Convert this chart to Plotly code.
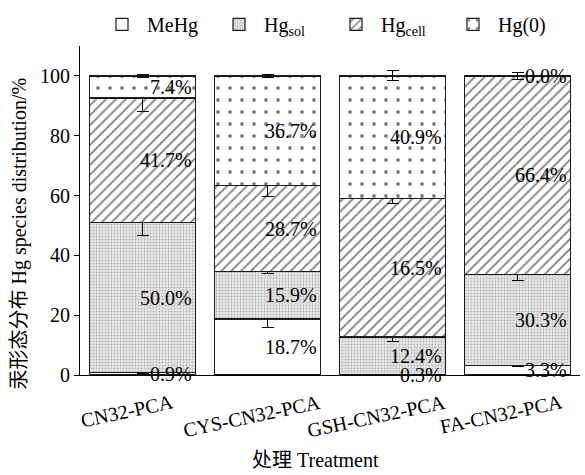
import plotly.graph_objects as go

categories = ["CN32-PCA", "CYS-CN32-PCA", "GSH-CN32-PCA", "FA-CN32-PCA"]
series_names = ["MeHg", "Hg<sub>sol</sub>", "Hg<sub>cell</sub>", "Hg(0)"]

mehg = [0.9, 18.7, 0.3, 3.3]
hg_sol = [50.0, 15.9, 12.4, 30.3]
hg_cell = [41.7, 28.7, 46.4, 66.4]
hg0 = [7.4, 36.7, 40.9, 0.0]

mehg_err = [0.3, 2.7, 0.0, 0.4]
hg_sol_err = [4.2, 0.5, 1.4, 2.1]
hg_cell_err = [4.5, 3.7, 1.6, 0.0]
hg0_err = [0.6, 0.6, 1.7, 1.3]

mehg_lbl = ["0.9%", "18.7%", "0.3%", "3.3%"]
hg_sol_lbl = ["50.0%", "15.9%", "12.4%", "30.3%"]
hg_cell_lbl = ["41.7%", "28.7%", "16.5%", "66.4%"]
hg0_lbl = ["7.4%", "36.7%", "40.9%", "0.0%"]

y_ticks = [0, 20, 40, 60, 80, 100]
x_title = "处理 Treatment"
y_title = "汞形态分布 Hg species distribution/%"

FONT = "Liberation Serif, Noto Sans CJK SC, serif"

series = [mehg, hg_sol, hg_cell, hg0]
errors = [mehg_err, hg_sol_err, hg_cell_err, hg0_err]
labels = [mehg_lbl, hg_sol_lbl, hg_cell_lbl, hg0_lbl]
patterns = [
    dict(shape="", bgcolor="white"),
    dict(shape=".", fgcolor="#8a8a8a", bgcolor="#e6e6e6", size=3, solidity=0.3),
    dict(shape="/", fgcolor="black", bgcolor="white", size=7, solidity=0.26),
    dict(shape=".", fgcolor="black", bgcolor="white", size=12, solidity=0.08),
]

fig = go.Figure()
for name, vals, err, pat in zip(series_names, series, errors, patterns):
    fig.add_trace(go.Bar(
        x=categories, y=vals, name=name,
        marker=dict(color="white", pattern=pat,
                    line=dict(color="#1a1a1a", width=1.2)),
        error_y=dict(type="data", array=err, visible=True, color="black",
                     thickness=1, width=6),
    ))

annotations = []
# segment labels
base = [0.0] * len(categories)
for vals, lbls in zip(series, labels):
    for i, cat in enumerate(categories):
        annotations.append(dict(
            x=cat, y=base[i] + vals[i] / 2, xref="x", yref="y",
            text=lbls[i], showarrow=False, xanchor="right", yanchor="middle",
            xshift=51, font=dict(family=FONT, size=20, color="black")))
        base[i] += vals[i]

# category labels (slanted)
for cat in categories:
    annotations.append(dict(
        x=cat, y=0, xref="x", yref="y", text=cat, showarrow=False,
        textangle=-12, xanchor="center", yanchor="top", xshift=-16, yshift=-13,
        font=dict(family=FONT, size=20, color="black")))

annotations.append(dict(
    x=0.47, y=-0.259, xref="paper", yref="paper", text=x_title, showarrow=False,
    xanchor="center", yanchor="middle", font=dict(family=FONT, size=20, color="black")))
annotations.append(dict(
    x=-0.12, y=0.43, xref="paper", yref="paper", text=y_title, showarrow=False,
    textangle=-90, xanchor="center", yanchor="middle",
    font=dict(family=FONT, size=20, color="black")))

fig.update_layout(
    width=585, height=475,
    margin=dict(l=80, r=5, t=43, b=100),
    paper_bgcolor="white", plot_bgcolor="white",
    barmode="stack", bargap=0.15,
    font=dict(family=FONT, size=20, color="black"),
    showlegend=True,
    legend=dict(orientation="h", traceorder="normal",
                x=0.034, xanchor="left", y=1.125, yanchor="top",
                font=dict(family=FONT, size=20, color="black"),
                bgcolor="rgba(0,0,0,0)", itemwidth=40,
                entrywidth=62, entrywidthmode="pixels"),
    annotations=annotations,
    xaxis=dict(range=[-0.5, 3.5], showline=True, linecolor="black", linewidth=1,
               ticks="", showticklabels=False, showgrid=False, zeroline=False),
    yaxis=dict(range=[0, 110], tickvals=y_ticks, ticks="outside", ticklen=5,
               tickwidth=1, tickcolor="black", showline=True, linecolor="black",
               linewidth=1, showgrid=False, zeroline=False,
               tickfont=dict(family=FONT, size=20, color="black")),
)

fig.write_html("out.html")
